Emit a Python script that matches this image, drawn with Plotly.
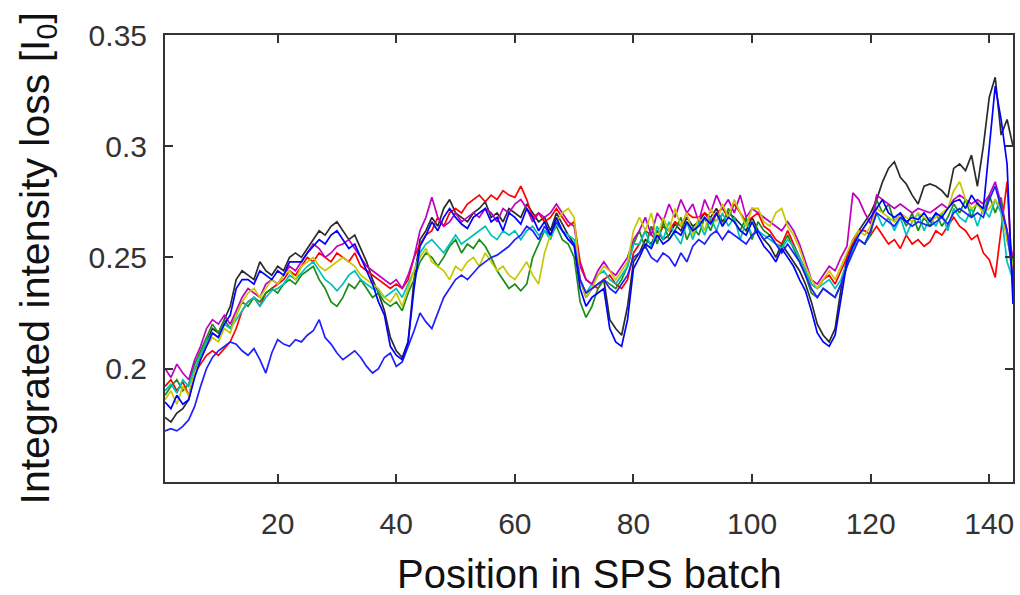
import plotly.graph_objects as go

# Bunch position in the SPS batch
position = list(range(1, 145))

# Integrated intensity loss, in units of 1e-3 I0
black_loss = [
    178,176,180,182,186,198,206,212,218,216,
    222,228,240,244,242,240,248,244,242,246,
    244,250,252,250,254,258,262,260,264,266,
    262,258,260,254,248,240,234,226,214,208,
    205,212,240,258,262,268,264,272,276,270,
    268,266,270,272,275,268,270,266,272,270,
    268,274,270,266,268,262,270,265,260,256,
    240,232,236,238,240,222,218,215,228,248,
    252,258,256,262,258,260,265,262,268,264,
    266,270,268,272,266,270,268,265,262,268,
    262,258,255,250,256,252,248,244,238,230,
    220,215,212,218,236,250,258,262,266,270,
    276,284,290,293,286,283,278,274,282,283,
    282,280,277,290,292,289,296,282,300,322,
    331,305,312,300,
]
red_loss = [
    192,195,190,194,188,198,202,206,208,206,
    209,212,218,226,230,232,228,234,236,238,
    240,244,242,246,250,248,252,250,248,252,
    250,248,252,246,244,242,240,238,236,238,
    236,240,250,256,260,262,268,264,270,272,
    270,274,276,278,275,278,276,280,278,277,
    282,276,268,270,266,268,272,268,264,266,
    248,240,238,236,240,242,238,236,240,252,
    256,262,260,258,264,262,266,264,270,268,
    268,270,266,270,272,268,274,270,266,268,
    270,264,262,258,256,262,256,250,244,238,
    236,240,242,238,244,250,256,262,262,260,
    264,260,256,258,254,260,256,258,255,257,
    262,260,264,268,264,262,258,260,252,249,
    241,262,284,236,
]
green_loss = [
    188,192,195,190,193,202,208,214,220,216,
    222,218,224,230,228,232,230,234,236,234,
    238,240,238,242,244,246,240,236,230,228,
    232,238,236,240,236,232,234,230,228,230,
    226,234,240,248,252,250,246,250,255,258,
    252,256,254,258,255,250,244,240,236,238,
    235,238,250,256,262,260,264,258,256,250,
    230,223,228,236,240,238,236,240,246,256,
    262,254,264,256,266,258,262,268,258,264,
    260,268,262,270,264,272,266,262,268,258,
    266,262,260,256,255,260,254,248,242,234,
    232,236,234,232,238,246,254,258,256,260,
    276,270,274,266,270,264,270,262,268,264,
    270,264,268,274,270,276,268,275,270,278,
    270,277,258,248,
]
cyan_loss = [
    190,193,189,195,192,200,206,212,216,214,
    220,218,222,226,230,232,228,232,235,236,
    238,242,240,243,246,248,244,240,238,235,
    238,242,244,240,238,236,235,232,234,236,
    232,238,244,252,256,258,255,252,256,260,
    256,258,260,262,264,260,258,262,260,262,
    258,262,264,260,262,258,265,262,260,258,
    240,234,238,242,244,240,238,242,246,256,
    256,262,254,264,258,266,260,256,266,258,
    266,260,268,262,270,264,268,258,266,260,
    262,260,258,256,254,258,255,250,244,238,
    236,238,240,236,240,248,254,258,256,262,
    270,264,268,262,268,260,266,270,262,268,
    264,270,262,272,268,266,272,264,272,268,
    276,270,248,240,
]
magenta_loss = [
    200,196,202,198,195,204,210,218,222,220,
    224,220,226,232,236,234,232,238,240,238,
    242,246,244,248,252,256,254,250,252,255,
    256,258,254,250,246,244,242,240,238,240,
    236,242,250,262,268,277,268,264,266,270,
    266,268,270,268,272,270,266,272,270,274,
    276,272,266,270,268,270,274,270,266,264,
    246,240,238,244,248,244,242,246,250,258,
    262,268,260,270,266,274,268,276,270,274,
    266,276,270,278,272,276,270,278,268,272,
    270,268,266,264,262,266,262,256,248,240,
    238,242,246,244,250,255,279,276,270,265,
    278,276,274,272,274,272,270,272,271,270,
    272,274,272,276,278,276,274,276,274,278,
    284,274,262,250,
]
yellow_loss = [
    186,190,184,192,188,198,204,210,214,212,
    218,216,224,230,234,236,232,236,240,238,
    242,244,240,246,248,250,246,244,246,248,
    250,248,246,242,240,238,236,232,230,234,
    228,236,244,250,254,248,246,244,240,246,
    244,248,250,246,252,248,244,246,242,240,
    244,248,242,238,252,260,266,270,272,268,
    240,232,236,242,246,244,240,244,248,262,
    268,262,270,258,268,262,272,264,270,260,
    268,262,272,266,274,268,276,270,264,272,
    272,266,264,270,272,264,260,254,246,240,
    236,240,244,240,246,252,258,262,260,264,
    272,270,268,266,270,268,266,270,268,266,
    268,270,272,280,284,276,272,274,270,272,
    276,272,258,246,
]
blue_low_loss = [
    172,173,172,174,177,183,192,200,205,208,
    210,212,211,208,206,209,204,198,207,213,
    211,210,213,212,215,217,222,214,211,207,
    204,206,208,205,201,198,200,205,207,201,
    203,210,217,225,221,218,225,232,236,240,
    242,240,243,246,248,250,251,253,255,258,
    260,264,262,258,264,260,266,262,258,256,
    240,234,236,238,240,236,234,238,242,250,
    252,255,250,248,252,250,246,252,248,255,
    258,256,260,262,258,262,260,258,256,260,
    262,258,260,256,252,256,252,248,242,236,
    232,236,234,232,238,246,252,258,256,262,
    270,268,266,264,268,266,264,266,265,264,
    266,268,265,270,272,270,268,270,268,276,
    282,272,262,240,
]
blue_loss = [
    185,182,188,184,186,196,204,210,216,214,
    220,224,236,240,240,238,244,242,240,244,
    242,248,248,248,252,255,258,256,260,262,
    258,254,256,250,244,238,230,224,210,206,
    204,212,236,255,260,266,262,268,272,268,
    265,263,268,270,272,266,268,262,270,268,
    265,272,268,262,266,260,268,262,258,255,
    236,228,232,234,236,218,212,210,222,245,
    250,256,254,260,256,258,262,260,266,262,
    264,268,265,270,264,268,266,262,260,266,
    260,255,252,248,254,250,246,240,235,226,
    216,212,210,215,232,248,255,260,264,268,
    272,276,270,268,270,266,268,267,270,266,
    270,268,272,275,276,272,278,274,272,300,
    327,312,292,229,
]

series = [
    ("black", black_loss, "#2b2b2b"),
    ("red", red_loss, "#ff0000"),
    ("green", green_loss, "#1a8c1a"),
    ("cyan", cyan_loss, "#00bfbf"),
    ("magenta", magenta_loss, "#c000c0"),
    ("yellow", yellow_loss, "#c8c800"),
    ("blue low", blue_low_loss, "#1f1fff"),
    ("blue", blue_loss, "#0000ff"),
]
for name, vals, _ in series:
    assert len(vals) == len(position), (name, len(vals))

fig = go.Figure()
for name, vals, color in series:
    fig.add_trace(go.Scatter(
        x=position, y=[v / 1000 for v in vals], mode="lines", name=name,
        line=dict(color=color, width=1.7), showlegend=False,
    ))

FONT = "Liberation Sans, Arial, sans-serif"
axis_common = dict(
    showgrid=False, zeroline=False, showline=True, linecolor="#333333", linewidth=2,
    mirror="ticks", ticks="inside", ticklen=8, tickwidth=1.5, tickcolor="#333333",
    tickfont=dict(family=FONT, size=30, color="#333333"),
)
fig.update_xaxes(range=[1, 144], tickvals=[20, 40, 60, 80, 100, 120, 140],
                 ticklabelstandoff=14, **axis_common)
fig.update_yaxes(range=[0.149, 0.35], tickvals=[0.2, 0.25, 0.3, 0.35],
                 ticktext=["0.2", "0.25", "0.3", "0.35"], ticklabelstandoff=10, **axis_common)

fig.update_layout(
    width=1020, height=595, plot_bgcolor="white", paper_bgcolor="white",
    margin=dict(l=165, r=5, t=35, b=113),
    annotations=[
        dict(text="Position in SPS batch", xref="paper", yref="paper", x=0.5, y=0,
             yshift=-92, xanchor="center", yanchor="middle", showarrow=False,
             font=dict(family=FONT, size=40, color="#111111")),
        dict(text="Integrated intensity loss [I<sub>0</sub>]", xref="paper", yref="paper",
             x=0, y=0.5, xshift=-128, xanchor="center", yanchor="middle", textangle=-90,
             showarrow=False,
             font=dict(family=FONT, size=41, color="#111111")),
    ],
)
fig.write_html(
    "out.html",
    config={"displayModeBar": False},
    post_script="document.body.style.margin='0px';document.body.style.overflow='hidden';",
)
